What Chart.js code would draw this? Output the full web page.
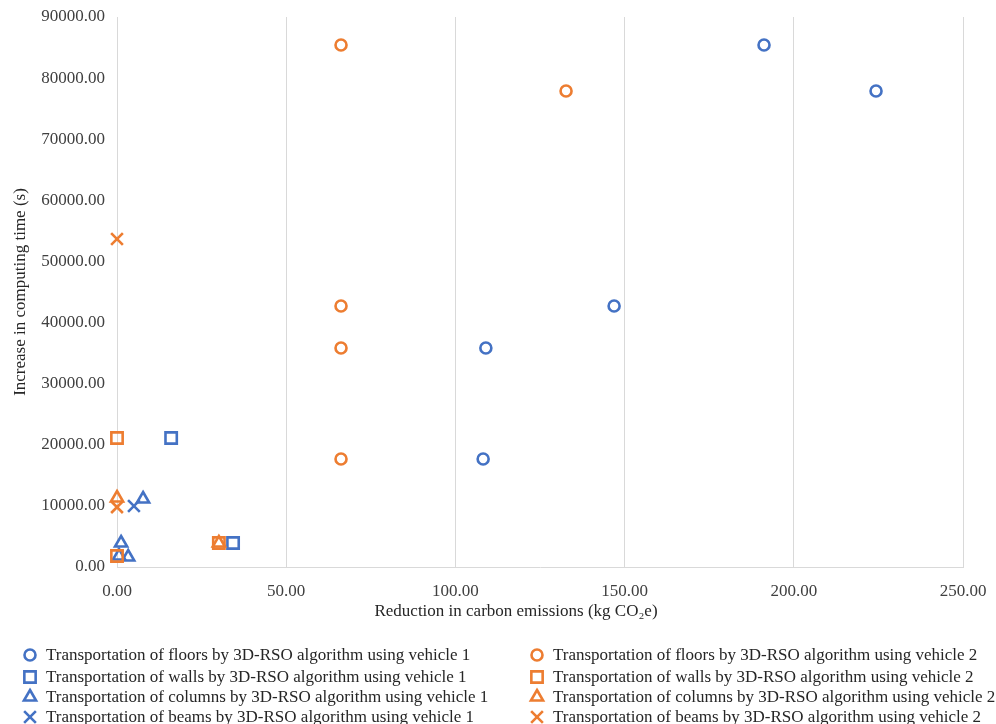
<!DOCTYPE html>
<html>
<head>
<meta charset="utf-8">
<script src="https://cdn.jsdelivr.net/npm/chart.js@4.4.0/dist/chart.umd.min.js"></script>
<style>
  html, body { margin: 0; padding: 0; background: #ffffff; }
  #wrap { position: relative; width: 996px; height: 724px; }
</style>
</head>
<body>
<div id="wrap"><canvas id="c" width="996" height="724"></canvas></div>
<script>
// ---- Data ----
const seriesLabels = [
  "Transportation of floors by 3D-RSO algorithm using vehicle 1",
  "Transportation of walls by 3D-RSO algorithm using vehicle 1",
  "Transportation of columns by 3D-RSO algorithm using vehicle 1",
  "Transportation of beams by 3D-RSO algorithm using vehicle 1",
  "Transportation of floors by 3D-RSO algorithm using vehicle 2",
  "Transportation of walls by 3D-RSO algorithm using vehicle 2",
  "Transportation of columns by 3D-RSO algorithm using vehicle 2",
  "Transportation of beams by 3D-RSO algorithm using vehicle 2"
];

const floorsV1X = [191.2, 224.3, 146.9, 109.0, 108.2];
const floorsV1Y = [85420, 77900, 42710, 35840, 17670];
const wallsV1X = [16.0, 34.3];
const wallsV1Y = [21110, 3930];
const columnsV1X = [7.7, 1.2, 3.3, 0.6];
const columnsV1Y = [11130, 3930, 1640, 1800];
const beamsV1X = [5.0];
const beamsV1Y = [9980];

const floorsV2X = [66.2, 132.7, 66.2, 66.2, 66.2];
const floorsV2Y = [85420, 77900, 42710, 35840, 17670];
const wallsV2X = [0.0, 30.1, 0.0];
const wallsV2Y = [21110, 3930, 1800];
const columnsV2X = [0.0, 30.1];
const columnsV2Y = [11290, 3930];
const beamsV2X = [0.0, 0.0];
const beamsV2Y = [53670, 9800];

const xTicksMax = 250, xStep = 50;
const yTicksMax = 90000, yStep = 10000;

const xTitle = "Reduction in carbon emissions (kg CO\u2082e)";
const yTitle = "Increase in computing time (s)";

// ---- Styles ----
const BLUE = "#4472C4";
const ORANGE = "#ED7D31";
const FONT = "'Liberation Serif', 'Times New Roman', serif";

function pts(xs, ys) { return xs.map((x, i) => ({ x: x, y: ys[i] })); }

const styleDefs = [
  { style: "circle", r: 5.5 },
  { style: "rect", r: 8 },
  { style: "triangle", r: 7 },
  { style: "crossRot", r: 8.3 }
];

const seriesData = [
  pts(floorsV1X, floorsV1Y), pts(wallsV1X, wallsV1Y), pts(columnsV1X, columnsV1Y), pts(beamsV1X, beamsV1Y),
  pts(floorsV2X, floorsV2Y), pts(wallsV2X, wallsV2Y), pts(columnsV2X, columnsV2Y), pts(beamsV2X, beamsV2Y)
];

const datasets = seriesData.map((d, i) => {
  const s = styleDefs[i % 4];
  const col = i < 4 ? BLUE : ORANGE;
  return {
    label: seriesLabels[i],
    data: d,
    pointStyle: s.style,
    pointRadius: s.r,
    pointHoverRadius: s.r,
    borderColor: col,
    backgroundColor: "rgba(0,0,0,0)",
    pointBorderWidth: 2.6,
    borderWidth: 2.6,
    clip: false,
    order: i < 4 ? 2 : 1
  };
});

// Custom two-column legend + x-axis title drawn on the chart canvas
const legendPlugin = {
  id: "twoColLegend",
  afterDraw(chart) {
    const ctx = chart.ctx;
    const rowsY = [655, 677, 697, 717];
    const cols = [{ mx: 30, tx: 46 }, { mx: 537, tx: 553 }];
    ctx.save();
    ctx.font = "17px " + FONT;
    ctx.textBaseline = "middle";
    ctx.textAlign = "left";
    chart.data.datasets.forEach((ds, i) => {
      const c = cols[i < 4 ? 0 : 1];
      const y = rowsY[i % 4];
      ctx.strokeStyle = ds.borderColor;
      ctx.fillStyle = "rgba(0,0,0,0)";
      ctx.lineWidth = 2.6;
      Chart.helpers.drawPoint(ctx, { pointStyle: ds.pointStyle, radius: ds.pointRadius, rotation: 0, borderWidth: 2.6 }, c.mx, y);
      ctx.fillStyle = "#262626";
      ctx.fillText(ds.label, c.tx, y + 1);
    });
    // x-axis title (offset to the left of the plot centre as in the reference)
    ctx.textAlign = "center";
    ctx.fillText(xTitle, 516, 612);
    ctx.restore();
  }
};

new Chart(document.getElementById("c"), {
  type: "scatter",
  data: { datasets: datasets },
  plugins: [legendPlugin],
  options: {
    responsive: false,
    animation: false,
    events: [],
    layout: { padding: { left: 0, top: 17, right: 33, bottom: 103 } },
    plugins: { legend: { display: false }, tooltip: { enabled: false } },
    scales: {
      x: {
        type: "linear",
        min: 0, max: xTicksMax,
        ticks: {
          stepSize: xStep,
          padding: 14,
          color: "#404040",
          font: { family: FONT, size: 17 },
          callback: v => Number(v).toFixed(2)
        },
        grid: { display: true, color: "#d9d9d9", lineWidth: 1, drawTicks: false },
        border: { display: true, color: "#d9d9d9" },
        title: { display: false },
        afterFit: s => { s.height = 54; s.paddingLeft = 0; s.paddingRight = 0; }
      },
      y: {
        type: "linear",
        min: 0, max: yTicksMax,
        ticks: {
          stepSize: yStep,
          padding: 12,
          color: "#404040",
          font: { family: FONT, size: 17 },
          callback: v => Number(v).toFixed(2)
        },
        grid: { display: false, drawTicks: false },
        border: { display: false },
        title: { display: true, text: yTitle, color: "#262626", font: { family: FONT, size: 17 }, padding: { top: 10, bottom: 0 } },
        afterFit: s => { s.width = 117; s.paddingTop = 0; s.paddingBottom = 0; }
      }
    }
  }
});
</script>
</body>
</html>
